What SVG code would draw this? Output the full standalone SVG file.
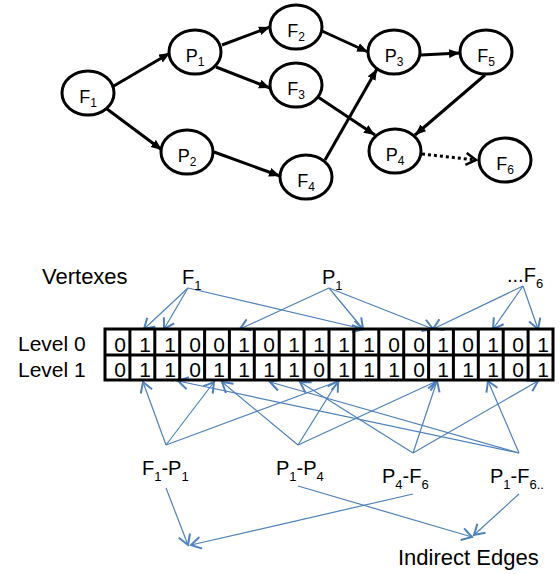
<svg xmlns="http://www.w3.org/2000/svg" width="560" height="574" viewBox="0 0 560 574">
<defs>
<style>
.node{fill:#fff;stroke:#000;stroke-width:3}
.e{stroke:#000;stroke-width:3;fill:none}
.b{stroke:#4F81BD;stroke-width:1.2;fill:none;marker-end:url(#ob)}
.t{font-family:"Liberation Sans",Arial,sans-serif;fill:#000}
.nl{font-size:18px;text-anchor:middle}
.d{font-size:21px;text-anchor:middle}
.g{stroke:#000;stroke-width:3;fill:none}
</style>
<marker id="fa" markerUnits="userSpaceOnUse" markerWidth="12" markerHeight="10" refX="11" refY="4.5" orient="auto"><path d="M0,0 L11,4.5 L0,9 z" fill="#000"/></marker>
<marker id="oa" markerUnits="userSpaceOnUse" markerWidth="14" markerHeight="16" refX="11" refY="7" orient="auto"><path d="M1,1 L11,7 L1,13" fill="none" stroke="#000" stroke-width="2.5"/></marker>
<marker id="ob" markerUnits="userSpaceOnUse" markerWidth="14" markerHeight="16" refX="11" refY="7" orient="auto"><path d="M1,1 L11,7 L1,13" fill="none" stroke="#4F81BD" stroke-width="2"/></marker>
</defs>
<rect width="560" height="574" fill="#fff"/>
<g id="connectors">
<line class="e" x1="112" y1="87" x2="170" y2="53" marker-end="url(#fa)"/>
<line class="e" x1="107" y1="109" x2="162" y2="150" marker-end="url(#fa)"/>
<line class="e" x1="222" y1="45" x2="270" y2="27" marker-end="url(#fa)"/>
<line class="e" x1="216" y1="67" x2="270" y2="88" marker-end="url(#fa)"/>
<line class="e" x1="214" y1="152" x2="280" y2="176" marker-end="url(#fa)"/>
<line class="e" x1="322" y1="31" x2="368" y2="52" marker-end="url(#fa)"/>
<line class="e" x1="318" y1="97" x2="375" y2="135" marker-end="url(#fa)"/>
<line class="e" x1="325" y1="160" x2="377" y2="69" marker-end="url(#fa)"/>
<line class="e" x1="421" y1="55" x2="460" y2="53" marker-end="url(#fa)"/>
<line class="e" x1="485" y1="75" x2="415" y2="135" marker-end="url(#fa)"/>
<line class="e" x1="422" y1="154" x2="476" y2="160" stroke-dasharray="3,3" marker-end="url(#oa)"/>
<line class="b" x1="188" y1="288" x2="144" y2="329"/>
<line class="b" x1="188" y1="288" x2="164" y2="329"/>
<line class="b" x1="188" y1="288" x2="363" y2="329"/>
<line class="b" x1="329" y1="288" x2="240" y2="329"/>
<line class="b" x1="329" y1="288" x2="363" y2="329"/>
<line class="b" x1="329" y1="288" x2="433" y2="329"/>
<line class="b" x1="523" y1="286" x2="433" y2="329"/>
<line class="b" x1="523" y1="286" x2="493" y2="329"/>
<line class="b" x1="523" y1="286" x2="538" y2="329"/>
<line class="b" x1="166" y1="445" x2="143" y2="382"/>
<line class="b" x1="166" y1="445" x2="214" y2="382"/>
<line class="b" x1="166" y1="445" x2="339" y2="381"/>
<line class="b" x1="298" y1="445" x2="222" y2="382"/>
<line class="b" x1="298" y1="445" x2="338" y2="381"/>
<line class="b" x1="298" y1="445" x2="437" y2="381"/>
<line class="b" x1="413" y1="453" x2="437" y2="381"/>
<line class="b" x1="413" y1="453" x2="538" y2="381"/>
<line class="b" x1="413" y1="453" x2="300" y2="382"/>
<line class="b" x1="519" y1="453" x2="488" y2="381"/>
<line class="b" x1="519" y1="453" x2="178" y2="381"/>
<line class="b" x1="519" y1="453" x2="270" y2="382"/>
<line class="b" x1="166" y1="488" x2="188" y2="545"/>
<line class="b" x1="413" y1="494" x2="191" y2="545"/>
<line class="b" x1="298" y1="486" x2="472" y2="537"/>
<line class="b" x1="519" y1="494" x2="474" y2="535"/>
</g>
<g id="F1"><ellipse class="node" cx="88" cy="93" rx="26" ry="22"/><text class="t nl" x="88" y="103">F<tspan font-size="12" dy="4">1</tspan></text></g>
<g id="P1"><ellipse class="node" cx="195" cy="52" rx="26" ry="22"/><text class="t nl" x="195" y="62">P<tspan font-size="12" dy="4">1</tspan></text></g>
<g id="P2"><ellipse class="node" cx="187" cy="152" rx="26" ry="22"/><text class="t nl" x="187" y="162">P<tspan font-size="12" dy="4">2</tspan></text></g>
<g id="F2"><ellipse class="node" cx="296" cy="27" rx="26" ry="22"/><text class="t nl" x="296" y="37">F<tspan font-size="12" dy="4">2</tspan></text></g>
<g id="F3"><ellipse class="node" cx="296" cy="85" rx="26" ry="22"/><text class="t nl" x="296" y="95">F<tspan font-size="12" dy="4">3</tspan></text></g>
<g id="F4"><ellipse class="node" cx="306" cy="177" rx="26" ry="22"/><text class="t nl" x="306" y="187">F<tspan font-size="12" dy="4">4</tspan></text></g>
<g id="P3"><ellipse class="node" cx="394" cy="52" rx="26" ry="22"/><text class="t nl" x="394" y="62">P<tspan font-size="12" dy="4">3</tspan></text></g>
<g id="F5"><ellipse class="node" cx="486" cy="52" rx="26" ry="22"/><text class="t nl" x="486" y="62">F<tspan font-size="12" dy="4">5</tspan></text></g>
<g id="P4"><ellipse class="node" cx="395" cy="151" rx="26" ry="22"/><text class="t nl" x="395" y="161">P<tspan font-size="12" dy="4">4</tspan></text></g>
<g id="F6"><ellipse class="node" cx="505" cy="160" rx="26" ry="22"/><text class="t nl" x="505" y="170">F<tspan font-size="12" dy="4">6</tspan></text></g>
<g id="labels">
<text class="t" x="42" y="284" font-size="22">Vertexes</text>
<text class="t" x="182" y="284" font-size="20">F<tspan font-size="13" dy="6">1</tspan></text>
<text class="t" x="322" y="284" font-size="20">P<tspan font-size="13" dy="6">1</tspan></text>
<text class="t" x="507" y="282" font-size="20">...F<tspan font-size="13" dy="6">6</tspan></text>
<text class="t" x="18" y="351" font-size="21">Level 0</text>
<text class="t" x="18" y="377" font-size="21">Level 1</text>
<text class="t" x="142" y="475" font-size="20">F<tspan font-size="13" dy="6">1</tspan><tspan dy="-6">-P</tspan><tspan font-size="13" dy="6">1</tspan></text>
<text class="t" x="276" y="475" font-size="20">P<tspan font-size="13" dy="6">1</tspan><tspan dy="-6">-P</tspan><tspan font-size="13" dy="6">4</tspan></text>
<text class="t" x="382" y="483" font-size="20">P<tspan font-size="13" dy="6">4</tspan><tspan dy="-6">-F</tspan><tspan font-size="13" dy="6">6</tspan></text>
<text class="t" x="490" y="483" font-size="20">P<tspan font-size="13" dy="6">1</tspan><tspan dy="-6">-F</tspan><tspan font-size="13" dy="6">6..</tspan></text>
<text class="t" x="398" y="565" font-size="22">Indirect Edges</text>
</g>
<g id="grid">
<rect class="g" x="105" y="329" width="448" height="51"/>
<line class="g" x1="105" y1="355" x2="553" y2="355"/>
<path class="g" d="M129.9,329V380M154.8,329V380M179.7,329V380M204.6,329V380M229.4,329V380M254.3,329V380M279.2,329V380M304.1,329V380M329,329V380M353.9,329V380M378.8,329V380M403.7,329V380M428.6,329V380M453.4,329V380M478.3,329V380M503.2,329V380M528.1,329V380"/>
<g class="t d">
<text x="120" y="352">0</text><text x="145" y="352">1</text><text x="170" y="352">1</text><text x="195" y="352">0</text><text x="219" y="352">0</text><text x="244" y="352">1</text><text x="269" y="352">0</text><text x="294" y="352">1</text><text x="319" y="352">1</text><text x="344" y="352">1</text><text x="369" y="352">1</text><text x="394" y="352">0</text><text x="419" y="352">0</text><text x="443" y="352">1</text><text x="468" y="352">0</text><text x="493" y="352">1</text><text x="518" y="352">0</text><text x="543" y="352">1</text>
<text x="120" y="377">0</text><text x="145" y="377">1</text><text x="170" y="377">1</text><text x="195" y="377">0</text><text x="219" y="377">1</text><text x="244" y="377">1</text><text x="269" y="377">1</text><text x="294" y="377">1</text><text x="319" y="377">0</text><text x="344" y="377">1</text><text x="369" y="377">1</text><text x="394" y="377">1</text><text x="419" y="377">0</text><text x="443" y="377">1</text><text x="468" y="377">1</text><text x="493" y="377">1</text><text x="518" y="377">0</text><text x="543" y="377">1</text>
</g>
</g>
</svg>
